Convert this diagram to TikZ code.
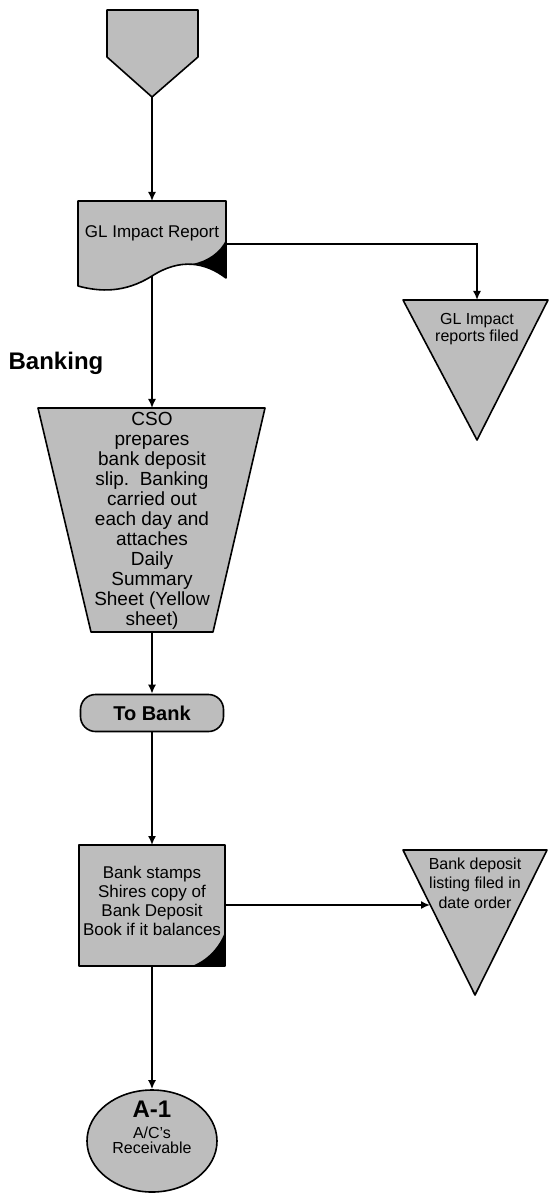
\documentclass[tikz,border=0pt]{standalone}
\usepackage{fontspec}
\setmainfont{Liberation Sans}
\usetikzlibrary{arrows.meta,shapes.geometric}
\definecolor{flowgray}{gray}{0.74}
\def\dgray{\filldraw[fill=flowgray,line width=0.8pt,line join=round]}
\def\dcurl{\fill[black]}
\def\dflow{\draw[line width=0.8pt,-{Latex[length=4.5pt,width=4pt]}]}
\tikzset{
  txt/.style={font=\fontsize{8}{9.5}\selectfont,align=center,inner sep=0pt},
  boldtxt/.style={font=\bfseries\fontsize{12}{14}\selectfont,inner sep=0pt},
}

\begin{document}
\begin{tikzpicture}[x=0.5pt,y=-0.5pt]
  \useasboundingbox[fill=white] (0,0) rectangle (549,1197);

  \dgray (107,10) -- (198,10) -- (198,57) -- (152,97) -- (107,57) -- cycle;
  \coordinate (offpage) at (152,97);

  \dgray (78,201) -- (226,201) -- (226,278) .. controls (205,262) and (180,258) .. (152,276)
         .. controls (125,293) and (100,292) .. (78,286) -- cycle;
  \dcurl (226,240) -- (226,278) .. controls (212,268) and (202,264) .. (192,264)
         .. controls (208,261) and (220,252) .. (226,240) -- cycle;
  \node[txt,font=\fontsize{8.5}{10}\selectfont] (glrep) at (152,233) {GL Impact Report};
  \coordinate (glrep-n) at (152,201);
  \coordinate (glrep-e) at (226,244);
  \coordinate (glrep-s) at (152,276);

  \dgray (403,300) -- (548,300) -- (477,440) -- cycle;
  \node[txt,font=\fontsize{8}{8.5}\selectfont] (glfiled) at (477,329) {GL Impact\\reports filed};
  \coordinate (glfiled-n) at (477,300);

  \node[boldtxt] (banking) at (56,363) {Banking};

  \dgray (38,408) -- (265,408) -- (213,632) -- (91,632) -- cycle;
  \node[txt,font=\fontsize{9.5}{10}\selectfont] (cso) at (152,521) {CSO\\prepares\\bank deposit\\slip.\ \ Banking\\carried out\\each day and\\attaches\\Daily\\Summary\\Sheet (Yellow\\sheet)};
  \coordinate (cso-n) at (152,408);
  \coordinate (cso-s) at (152,632);

  \node[draw,fill=flowgray,line width=0.8pt,rounded corners=7.5pt,minimum width=71.5pt,minimum height=18.5pt,
        inner sep=0pt,font=\bfseries\fontsize{10}{12}\selectfont] (tobank) at (152,713) {To Bank};

  \dgray (79,845) rectangle (225,966);
  \dcurl (225,932) -- (225,966) -- (192,966) .. controls (207,960) and (219,948) .. (225,932) -- cycle;
  \node[txt,font=\fontsize{8.5}{9.5}\selectfont] (stamp) at (152,901) {Bank stamps\\Shires copy of\\Bank Deposit\\Book if it balances};
  \coordinate (stamp-n) at (152,845);
  \coordinate (stamp-e) at (225,905);
  \coordinate (stamp-s) at (152,966);

  \dgray (403,850) -- (547,850) -- (475,995) -- cycle;
  \node[txt,font=\fontsize{8}{9.75}\selectfont] (depfile) at (475,883) {Bank deposit\\listing filed in\\date order};
  \coordinate (depfile-w) at (430,905);

  \node[ellipse,draw,fill=flowgray,line width=0.8pt,minimum width=65pt,minimum height=51pt,inner sep=0pt] (arcv) at (152,1141) {};
  \node[txt,font=\fontsize{8}{7.5}\selectfont] (arcv-txt) at (152,1127)
       {{\bfseries\fontsize{12}{12}\selectfont A-1}\\[3pt]A/C's\\Receivable};

  \dflow (offpage) -- (glrep-n);
  \dflow (glrep-e) -| (glfiled-n);
  \dflow (glrep-s) -- (cso-n);
  \dflow (cso-s) -- (tobank.north);
  \dflow (tobank.south) -- (stamp-n);
  \dflow (stamp-e) -- (depfile-w);
  \dflow (stamp-s) -- (arcv.north);
\end{tikzpicture}
\end{document}
